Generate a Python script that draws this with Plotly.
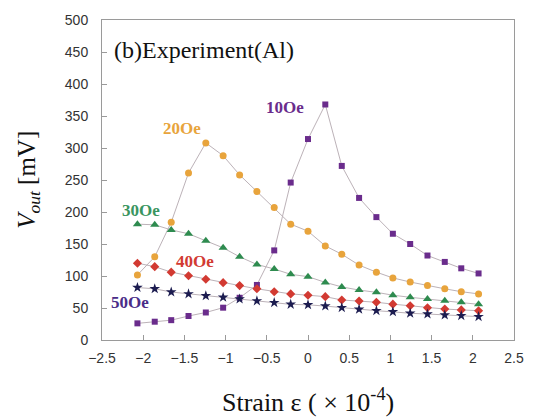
import plotly.graph_objects as go

strain = [-2.07, -1.86, -1.66, -1.45, -1.24, -1.03, -0.83, -0.62, -0.41, -0.21, 0.0,
          0.21, 0.41, 0.62, 0.83, 1.03, 1.24, 1.45, 1.66, 1.86, 2.07]

v_10 = [26, 28.6, 31, 37.5, 43, 50.5, 66, 86, 140, 246, 314, 368, 272, 222, 192, 166, 150, 132, 122, 112, 104]
v_20 = [101.6, 130, 184, 261, 308, 288, 258, 232, 207, 181, 170, 147, 134, 117, 106, 97, 90.6, 85, 80, 75.5, 72]
v_30 = [181, 180, 172, 166, 155, 144, 130, 118, 111, 102.6, 99, 90, 83, 78, 74.5, 70, 66.7, 64, 61.5, 59, 55.7]
v_40 = [120, 114.6, 106, 100.5, 95, 89.6, 85, 80, 75.5, 72, 70, 67.7, 62.5, 61, 59, 56, 53.6, 50.5, 48.4, 47, 45.8]
v_50 = [82, 80, 75, 72, 69, 66.7, 64, 61, 58.3, 55.7, 55, 53, 50.5, 48, 45.8, 44, 41.7, 40.6, 39, 38, 36.5]

series = [
    ("10Oe", v_10, "#6a2c8c", "square", 6),
    ("20Oe", v_20, "#e8a43c", "circle", 7),
    ("30Oe", v_30, "#2e8b4f", "triangle-up", 8),
    ("40Oe", v_40, "#d23a32", "diamond", 7),
    ("50Oe", v_50, "#1c1c50", "star", 8),
]

fig = go.Figure()
for name, vals, col, sym, sz in series:
    fig.add_trace(go.Scatter(
        x=strain, y=vals, mode="lines+markers", name=name,
        line=dict(color="#bcb2b8", width=1),
        marker=dict(color=col, symbol=sym, size=sz, line=dict(width=0)),
        showlegend=False))

serif = "Liberation Serif, Times New Roman, serif"
labels = [
    ("10Oe", -0.28, 364, "#6a2c8c"),
    ("20Oe", -1.53, 331, "#e8a43c"),
    ("30Oe", -2.03, 203, "#3a9560"),
    ("40Oe", -1.37, 122, "#d23a32"),
    ("50Oe", -2.16, 58, "#4a2c88"),
]
for txt, x, y, col in labels:
    fig.add_annotation(x=x, y=y, text="<b>" + txt + "</b>", showarrow=False,
                       font=dict(family=serif, size=17, color=col))

fig.add_annotation(x=0.025, y=0.906, xref="paper", yref="paper", xanchor="left",
                   yanchor="middle", text="(b)Experiment(Al)", showarrow=False,
                   font=dict(family=serif, size=24, color="#111111"))
fig.add_annotation(x=-0.18, y=0.5, xref="paper", yref="paper", xanchor="center",
                   yanchor="middle",
                   text="<i>V</i><sub><i>out</i></sub> [mV]", textangle=-90,
                   showarrow=False, font=dict(family=serif, size=25, color="#111111"))
fig.add_annotation(x=0.5, y=-0.19, xref="paper", yref="paper", xanchor="center",
                   yanchor="middle",
                   text="Strain ε ( × 10<sup>-4</sup>)", showarrow=False,
                   font=dict(family=serif, size=26, color="#111111"))

axis_common = dict(showgrid=False, zeroline=False, showline=True, linecolor="#9a9a9a",
                   linewidth=1, mirror=True, ticks="inside", ticklen=5, tickcolor="#9a9a9a",
                   tickfont=dict(family="Liberation Sans, Arial, sans-serif", size=14, color="#333333"))
fig.update_xaxes(range=[-2.5, 2.5], dtick=0.5, tick0=-2.5,
                 ticklabelstandoff=5, **axis_common)
fig.update_yaxes(range=[0, 500], dtick=50, ticklabelstandoff=10, **axis_common)

fig.update_layout(width=536, height=418, margin=dict(l=102, r=17, t=20, b=78),
                  plot_bgcolor="white", paper_bgcolor="white")
fig.write_html("out.html")
